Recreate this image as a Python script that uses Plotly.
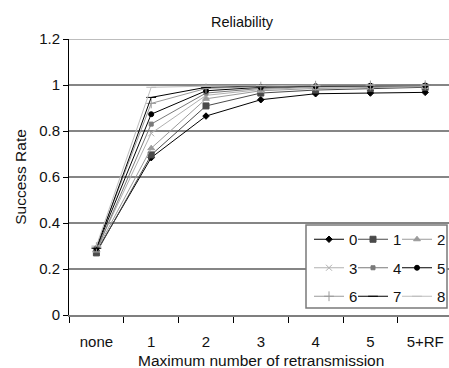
import plotly.graph_objects as go

categories = ["none", "1", "2", "3", "4", "5", "5+RF"]
series_names = ["0", "1", "2", "3", "4", "5", "6", "7", "8"]

s0 = [0.275, 0.684, 0.865, 0.936, 0.962, 0.965, 0.968]
s1 = [0.270, 0.696, 0.909, 0.965, 0.978, 0.985, 0.990]
s2 = [0.280, 0.725, 0.940, 0.975, 0.985, 0.990, 0.993]
s3 = [0.285, 0.790, 0.955, 0.980, 0.990, 0.993, 0.995]
s4 = [0.280, 0.830, 0.965, 0.985, 0.993, 0.995, 0.997]
s5 = [0.290, 0.873, 0.975, 0.990, 0.995, 0.997, 0.998]
s6 = [0.295, 0.920, 0.985, 0.993, 0.997, 0.998, 0.999]
s7 = [0.290, 0.946, 0.990, 0.996, 0.998, 0.999, 1.000]
s8 = [0.300, 0.990, 0.995, 0.998, 0.999, 1.000, 1.000]
series_values = [s0, s1, s2, s3, s4, s5, s6, s7, s8]

y_tickvals = [0, 0.2, 0.4, 0.6, 0.8, 1.0, 1.2]
y_ticktext = ["0", "0.2", "0.4", "0.6", "0.8", "1", "1.2"]

colors = ["#000000", "#4a4a4a", "#9a9a9a", "#b0b0b0", "#7a7a7a",
          "#000000", "#9a9a9a", "#000000", "#bdbdbd"]
symbols = ["diamond", "square", "triangle-up", "x-thin-open", "square",
           "circle", "cross-thin-open", "line-ew-open", "line-ew-open"]
sizes = [5, 6, 6, 6, 4, 5, 7, 7, 7]
legend_ids = ["legend", "legend2", "legend3"] * 3

FONT = "Liberation Sans, Arial, sans-serif"

fig = go.Figure()
for i, (name, vals) in enumerate(zip(series_names, series_values)):
    fig.add_trace(go.Scatter(
        x=categories, y=vals, name=name, mode="lines+markers",
        line=dict(color=colors[i], width=1),
        marker=dict(symbol=symbols[i], size=sizes[i], color=colors[i],
                    line=dict(color=colors[i], width=1)),
        legend=legend_ids[i], legendgroup=name,
    ))

W, H = 449, 368
L, R, T, B = 69, 0, 39, 53
pw = W - L - R
ph = H - T - B
cat_px = 54.8
x_hi = -0.5 + pw / cat_px


def px_x(sx):
    return (sx - L) / pw


def px_y(sy):
    return (H - B - sy) / ph


leg_common = dict(
    font=dict(family=FONT, size=15, color="#111111"),
    bgcolor="rgba(0,0,0,0)", borderwidth=0, itemwidth=30,
    tracegroupgap=6, xanchor="left", yanchor="top", y=px_y(223),
    itemclick=False, itemdoubleclick=False,
)

fig.update_layout(
    width=W, height=H,
    margin=dict(l=L, r=R, t=T, b=B, autoexpand=False),
    paper_bgcolor="white", plot_bgcolor="white",
    font=dict(family=FONT, size=15, color="#111111"),
    title=dict(text="Reliability", font=dict(family=FONT, size=14.5, color="#111111"),
               x=px_x(242), xref="paper", xanchor="center",
               y=1 - 22 / H, yref="container", yanchor="middle"),
    xaxis=dict(type="category", categoryorder="array", categoryarray=categories,
               range=[-0.5, x_hi], showgrid=False, tickson="boundaries",
               ticks="outside", ticklen=6, tickcolor="#000000", tickwidth=1,
               showline=True, linecolor="#7f7f7f", linewidth=2,
               ticklabelstandoff=12,
               tickfont=dict(family=FONT, size=15),
               automargin=False, fixedrange=True),
    yaxis=dict(range=[0, 1.2], tickvals=y_tickvals, ticktext=y_ticktext,
               showgrid=True, gridcolor="#858585", gridwidth=2, zeroline=False,
               ticks="outside", ticklen=5, tickcolor="#000000",
               showline=True, linecolor="#000000", linewidth=1,
               tickfont=dict(family=FONT, size=15),
               title=dict(text="Success Rate", font=dict(family=FONT, size=15.5), standoff=8),
               automargin=False, fixedrange=True),
    legend=dict(x=px_x(309), **leg_common),
    legend2=dict(x=px_x(353), **leg_common),
    legend3=dict(x=px_x(397), **leg_common),
    annotations=[
        dict(text="Maximum number of retransmission", xref="paper", yref="paper",
             x=px_x(261), y=px_y(360), xanchor="center", yanchor="middle",
             showarrow=False, font=dict(family=FONT, size=15.5, color="#111111")),
    ],
    shapes=[
        dict(type="line", xref="paper", yref="y", x0=0, x1=1, y0=1.2, y1=1.2,
             line=dict(color="#bdbdbd", width=2), layer="above"),
        dict(type="rect", xref="paper", yref="paper",
             x0=px_x(306), x1=px_x(447),
             y0=px_y(308), y1=px_y(225),
             line=dict(color="#7a7a7a", width=1.5), fillcolor="white", layer="above"),
    ],
)

fig.write_html("out.html",
               config={"displayModeBar": False},
               post_script="document.body.style.margin='0px';"
                           "document.body.style.overflow='hidden';")
